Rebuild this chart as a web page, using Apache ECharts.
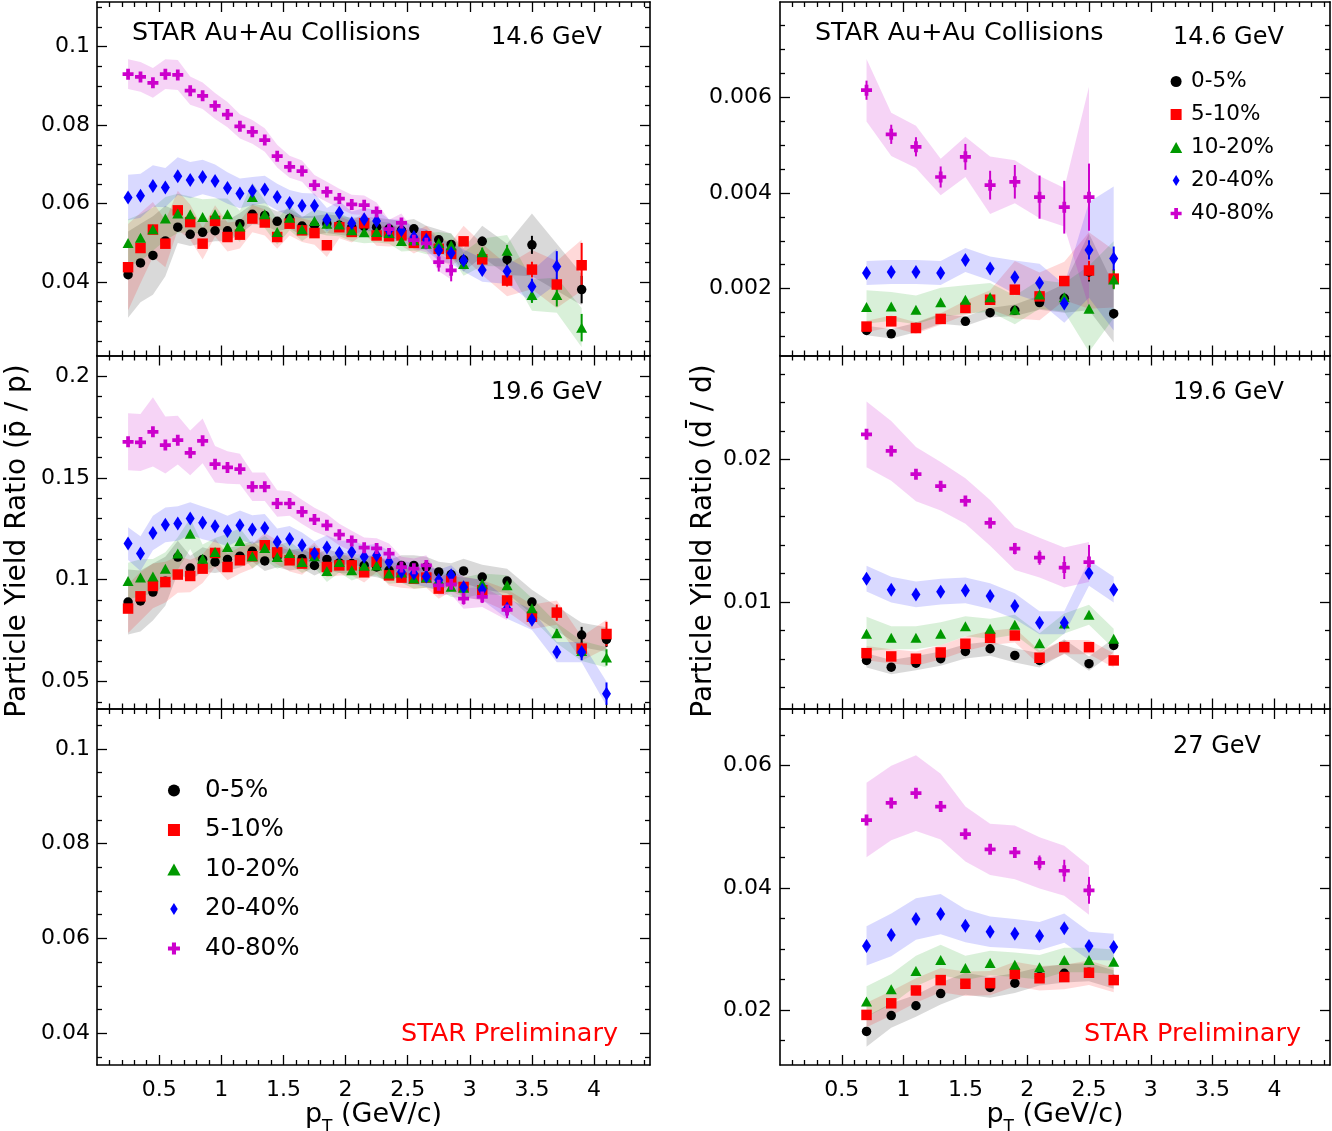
<!DOCTYPE html>
<html>
<head>
<meta charset="utf-8">
<title>STAR Au+Au antiparticle / particle ratios</title>
<script src="https://cdn.jsdelivr.net/npm/echarts@6.0.0/dist/echarts.min.js"></script>
<style>
html,body{margin:0;padding:0;background:#ffffff;}
#chart{width:1332px;height:1131px;}
</style>
</head>
<body>
<div id="chart"></div>
<script>
// ---------------- categories ----------------
const centralities = ['0-5%', '5-10%', '10-20%', '20-40%', '40-80%'];

// ---------------- x values (pT, GeV/c) ----------------
const ptProton = [0.25,0.35,0.45,0.55,0.65,0.75,0.85,0.95,1.05,1.15,1.25,1.35,1.45,1.55,1.65,1.75,1.85,1.95,2.05,2.15,2.25,2.35,2.45,2.55,2.65,2.75,2.85,2.95,3.1,3.3,3.5,3.7,3.9,4.1];
const ptDeuteron = [0.7,0.9,1.1,1.3,1.5,1.7,1.9,2.1,2.3,2.5,2.7];

// ---------------- tick values ----------------
const xMajorTicks = [0.5,1,1.5,2,2.5,3,3.5,4];
const xMinorTicks = [0.1,0.2,0.3,0.4,0.6,0.7,0.8,0.9,1.1,1.2,1.3,1.4,1.6,1.7,1.8,1.9,2.1,2.2,2.3,2.4,2.6,2.7,2.8,2.9,3.1,3.2,3.3,3.4,3.6,3.7,3.8,3.9,4.1,4.2,4.3,4.4];
const yMajorP146 = [0.04,0.06,0.08,0.1];
const yMinorP146 = [0.025,0.03,0.035,0.045,0.05,0.055,0.065,0.07,0.075,0.085,0.09,0.095,0.105,0.11];
const yMajorP196 = [0.05,0.1,0.15,0.2];
const yMinorP196 = [0.04,0.06,0.07,0.08,0.09,0.11,0.12,0.13,0.14,0.16,0.17,0.18,0.19];
const yMajorP27 = [0.04,0.06,0.08,0.1];
const yMinorP27 = [0.035,0.045,0.05,0.055,0.065,0.07,0.075,0.085,0.09,0.095,0.105];
const yMajorD146 = [0.002,0.004,0.006];
const yMinorD146 = [0.001,0.0015,0.0025,0.003,0.0035,0.0045,0.005,0.0055,0.0065,0.007,0.0075];
const yMajorD196 = [0.01,0.02];
const yMinorD196 = [0.004,0.006,0.008,0.012,0.014,0.016,0.018,0.022,0.024,0.026];
const yMajorD27 = [0.02,0.04,0.06];
const yMinorD27 = [0.015,0.025,0.03,0.035,0.045,0.05,0.055,0.065];

// ---------------- pbar/p, 14.6 GeV ----------------
const pbar146_0_5   = [0.0419,0.0449,0.0468,0.0505,0.0540,0.0522,0.0527,0.0531,0.0531,0.0549,0.0573,0.0570,0.0555,0.0562,0.0543,0.0545,0.0549,0.0545,0.0540,0.0542,0.0540,0.0536,0.0532,0.0536,0.0519,0.0508,0.0496,0.0457,0.0504,0.0458,0.0495,null,0.0381,null];
const pbar146_5_10  = [0.0438,0.0487,0.0534,0.0498,0.0583,0.0553,0.0498,0.0556,0.0515,0.0521,0.0562,0.0552,0.0515,0.0549,0.0532,0.0525,0.0494,0.0540,0.0528,0.0550,0.0519,0.0517,0.0519,0.0500,0.0517,0.0485,0.0472,0.0504,0.0458,0.0404,0.0432,0.0394,0.0443,null];
const pbar146_10_20 = [0.0500,0.0513,0.0535,0.0562,0.0575,0.0573,0.0566,0.0573,0.0573,0.0542,0.0617,0.0573,0.0528,0.0564,0.0535,0.0556,0.0549,0.0547,0.0532,0.0527,0.0528,0.0525,0.0505,0.0507,0.0498,0.0500,0.0494,0.0446,0.0476,0.0480,0.0367,0.0367,0.0284,null];
const pbar146_20_40 = [0.0616,0.0620,0.0645,0.0641,0.0670,0.0660,0.0668,0.0658,0.0640,0.0626,0.0632,0.0636,0.0617,0.0602,0.0595,0.0595,0.0559,0.0577,0.0550,0.0560,0.0556,0.0532,0.0532,0.0515,0.0508,0.0481,0.0474,0.0455,0.0431,0.0428,0.0389,0.0440,null,null];
const pbar146_40_80 = [0.0930,0.0923,0.0908,0.0930,0.0928,0.0888,0.0875,0.0849,0.0827,0.0797,0.0783,0.0762,0.0721,0.0694,0.0683,0.0647,0.0630,0.0613,0.0598,0.0596,0.0579,0.0535,0.0551,0.0507,0.0499,0.0451,0.0430,null,null,null,null,null,null,null];
const pbar146Sys_0_5   = [0.011,0.010,0.010,0.009,0.004,0.003,0.0028,0.0027,0.0027,0.0027,0.0026,0.0025,0.0025,0.0025,0.0025,0.0024,0.0024,0.0024,0.0024,0.0024,0.0024,0.0024,0.0024,0.0025,0.0025,0.0026,0.0028,0.003,0.004,0.004,0.008,null,0.004,null];
const pbar146Sys_5_10  = [0.011,0.009,0.007,0.006,0.005,0.0045,0.004,0.004,0.0037,0.0035,0.0035,0.0033,0.003,0.003,0.003,0.003,0.003,0.0028,0.0027,0.0027,0.0026,0.0026,0.0026,0.0027,0.0027,0.0028,0.003,0.004,0.004,0.004,0.005,0.006,0.0065,null];
const pbar146Sys_10_20 = [0.006,0.006,0.0055,0.0055,0.005,0.0045,0.0045,0.004,0.004,0.004,0.0037,0.0035,0.0033,0.0032,0.003,0.003,0.003,0.003,0.0028,0.0028,0.0027,0.0027,0.0027,0.0027,0.0027,0.0028,0.003,0.003,0.0035,0.004,0.004,0.0045,0.005,null];
const pbar146Sys_20_40 = [0.0058,0.0056,0.0053,0.005,0.0048,0.0046,0.0044,0.0042,0.004,0.0038,0.0036,0.0035,0.0034,0.0033,0.0032,0.0031,0.003,0.003,0.003,0.0029,0.0028,0.0028,0.0027,0.0027,0.0027,0.0027,0.0027,0.0028,0.003,0.0033,0.004,0.0045,null,null];
const pbar146Sys_40_80 = [0.0038,0.0038,0.0038,0.0038,0.0038,0.0036,0.0034,0.0033,0.0032,0.0031,0.003,0.003,0.0029,0.0028,0.0027,0.0026,0.0026,0.0025,0.0025,0.0025,0.0024,0.0024,0.0024,0.0023,0.0023,0.0023,0.0023,null,null,null,null,null,null,null];
const pbar146Stat_0_5   = [0,0,0,0,0,0,0,0,0,0,0,0,0,0,0,0,0,0,0,0,0,0,0,0,0,0,0,0.001,0.0012,0.0015,0.0023,0,0.0035,0];
const pbar146Stat_5_10  = [0,0,0,0,0,0,0,0,0,0,0,0,0,0,0,0,0,0,0,0,0,0,0,0,0,0.0008,0.001,0.001,0.0012,0.0015,0.002,0.0015,0.0057,0];
const pbar146Stat_10_20 = [0,0,0,0,0,0,0,0,0,0,0,0,0,0,0,0,0,0,0,0,0,0,0,0,0,0,0,0.001,0.0012,0.0015,0.002,0.0029,0.0035,0];
const pbar146Stat_20_40 = [0,0,0,0,0,0,0,0,0,0,0,0,0,0,0,0,0,0,0,0,0,0,0,0,0,0,0.001,0.001,0.0012,0.0012,0.002,0.0039,0,0];
const pbar146Stat_40_80 = [0,0,0,0,0,0,0,0,0,0,0,0,0,0,0,0,0,0,0,0,0,0,0.001,0.0012,0.0015,0.0024,0.0028,0,0,0,0,0,0,0];

// ---------------- pbar/p, 19.6 GeV ----------------
const pbar196_0_5   = [0.0890,0.0895,0.0939,0.0992,0.1111,0.1057,0.1099,0.1087,0.1099,0.1115,0.1139,0.1092,0.1111,0.1095,0.1103,0.1070,0.1099,0.1082,0.1079,0.1070,0.1062,0.1046,0.1070,0.1070,0.1062,0.1038,0.1025,0.1043,0.1013,0.0993,0.0890,null,0.0728,0.0706];
const pbar196_5_10  = [0.0858,0.0918,0.0969,0.0988,0.1025,0.1018,0.1054,0.1131,0.1062,0.1095,0.1115,0.1169,0.1134,0.1095,0.1079,0.1128,0.1062,0.1070,0.1070,0.1036,0.1087,0.1021,0.1010,0.1005,0.1010,0.0956,0.0993,0.0964,0.0948,0.0898,0.0818,0.0838,0.0661,0.0733];
const pbar196_10_20 = [0.0993,0.1010,0.1016,0.1054,0.1128,0.1226,0.1103,0.1136,0.1160,0.1190,0.1115,0.1156,0.1111,0.1131,0.1087,0.1115,0.1042,0.1087,0.1046,0.1068,0.1070,0.1030,0.1035,0.1005,0.1010,0.1000,0.0965,0.0960,0.0980,0.0972,0.0860,0.0737,0.0650,0.0618];
const pbar196_20_40 = [0.1177,0.1128,0.1229,0.1269,0.1276,0.1300,0.1279,0.1262,0.1239,0.1267,0.1246,0.1254,0.1185,0.1200,0.1169,0.1128,0.1158,0.1131,0.1136,0.1113,0.1120,0.1087,0.1038,0.1030,0.1016,0.0998,0.1021,0.0962,0.0950,0.0858,0.0803,0.0644,0.0644,0.0440];
const pbar196_40_80 = [0.1677,0.1674,0.1726,0.1661,0.1685,0.1623,0.1682,0.1567,0.1551,0.1543,0.1456,0.1456,0.1374,0.1374,0.1333,0.1295,0.1267,0.1221,0.1190,0.1157,0.1153,0.1128,0.1062,0.1054,0.1070,0.0972,0.0977,0.0907,0.0915,0.0851,null,null,null,null];
const pbar196Sys_0_5   = [0.016,0.015,0.014,0.012,0.008,0.006,0.006,0.0055,0.0055,0.0055,0.005,0.005,0.005,0.005,0.005,0.005,0.005,0.005,0.005,0.005,0.005,0.005,0.005,0.005,0.005,0.005,0.0055,0.006,0.006,0.006,0.006,null,0.006,0.006];
const pbar196Sys_5_10  = [0.012,0.012,0.011,0.010,0.009,0.008,0.007,0.007,0.0065,0.0065,0.006,0.006,0.006,0.0055,0.0055,0.0055,0.005,0.005,0.005,0.005,0.005,0.005,0.005,0.005,0.005,0.005,0.005,0.005,0.005,0.0055,0.006,0.006,0.006,0.007];
const pbar196Sys_10_20 = [0.009,0.009,0.0085,0.008,0.008,0.0075,0.007,0.0068,0.0065,0.0063,0.006,0.006,0.0058,0.0056,0.0055,0.0055,0.0053,0.0052,0.005,0.005,0.005,0.005,0.005,0.005,0.005,0.005,0.005,0.005,0.005,0.005,0.005,0.005,0.005,0.005];
const pbar196Sys_20_40 = [0.008,0.0085,0.0085,0.0085,0.0085,0.008,0.008,0.0078,0.0075,0.0072,0.007,0.0068,0.0066,0.0064,0.0062,0.006,0.006,0.006,0.0058,0.0056,0.0055,0.0055,0.0054,0.0053,0.0052,0.005,0.005,0.005,0.005,0.005,0.005,0.005,0.005,0.006];
const pbar196Sys_40_80 = [0.014,0.014,0.017,0.014,0.012,0.011,0.011,0.009,0.008,0.0075,0.007,0.007,0.0065,0.006,0.006,0.0058,0.0055,0.0053,0.005,0.005,0.005,0.005,0.005,0.005,0.005,0.005,0.005,0.005,0.005,0.005,null,null,null,null];
const pbar196Stat_0_5   = [0,0,0,0,0,0,0,0,0,0,0,0,0,0,0,0,0,0,0,0,0,0,0,0,0,0,0,0,0,0,0.002,0,0.004,0.0037];
const pbar196Stat_5_10  = [0,0,0,0,0,0,0,0,0,0,0,0,0,0,0,0,0,0,0,0,0,0,0,0,0,0,0,0,0,0.002,0.002,0.004,0.003,0.006];
const pbar196Stat_10_20 = [0,0,0,0,0,0,0,0,0,0,0,0,0,0,0,0,0,0,0,0,0,0,0,0,0,0,0,0,0,0,0.002,0.002,0.003,0.004];
const pbar196Stat_20_40 = [0,0,0,0,0,0,0,0,0,0,0,0,0,0,0,0,0,0,0,0,0,0,0,0,0,0,0,0,0,0.002,0.002,0.003,0.004,0.0055];
const pbar196Stat_40_80 = [0,0,0,0,0,0,0,0,0,0,0,0,0,0,0,0,0,0,0,0,0,0,0,0,0,0.003,0.003,0.003,0.003,0.004,0,0,0,0];

// ---------------- dbar/d, 14.6 GeV ----------------
const dbar146_0_5   = [0.00113,0.00106,0.00119,0.00137,0.00132,0.00150,0.00155,0.00171,0.00180,0.00235,0.00148];
const dbar146_5_10  = [0.00121,0.00132,0.00118,0.00137,0.00160,0.00177,0.00198,0.00184,0.00216,0.00238,0.00221];
const dbar146_10_20 = [0.00162,0.00163,0.00156,0.00172,0.00177,0.00182,0.00156,0.00188,0.00182,0.00158,0.00219];
const dbar146_20_40 = [0.00233,0.00235,0.00235,0.00233,0.00260,0.00242,0.00224,0.00212,0.00169,0.00281,0.00263];
const dbar146_40_80 = [0.00614,0.00522,0.00496,0.00433,0.00475,0.00416,0.00423,0.00391,0.00370,0.00391,null];
const dbar146Sys_0_5   = [0.0001,0.0001,0.0001,0.0001,0.0001,0.0001,0.00012,0.00015,0.0003,0.0008,0.0006];
const dbar146Sys_5_10  = [0.00012,0.00012,0.00012,0.00012,0.00015,0.0002,0.0006,0.0005,0.0004,0.0008,0.0006];
const dbar146Sys_10_20 = [0.00035,0.0003,0.0003,0.0003,0.0003,0.0003,0.0003,0.0003,0.0003,0.0009,0.0008];
const dbar146Sys_20_40 = [0.00025,0.00025,0.00025,0.00025,0.00025,0.00025,0.00035,0.0004,0.0004,0.001,0.0015];
const dbar146Sys_40_80 = [0.00065,0.00045,0.00044,0.00038,0.00042,0.0006,0.00045,0.00044,0.0004,0.0023,null];
const dbar146Stat_0_5   = [0,0,0,0,0,0,0,0,0,0.0002,0.0001];
const dbar146Stat_5_10  = [0,0,0,0,0,0,0,0,0.0001,0.0002,0.0002];
const dbar146Stat_10_20 = [0,0,0,0,0,0,0,0,0,0,0.0002];
const dbar146Stat_20_40 = [0,0,0,0,0,0,0,0,0,0.0002,0.00025];
const dbar146Stat_40_80 = [0.0002,0.0002,0.0002,0.00022,0.00027,0.0003,0.00035,0.00045,0.00055,0.0007,0];

// ---------------- dbar/d, 19.6 GeV ----------------
const dbar196_0_5   = [0.00591,0.00544,0.00572,0.00603,0.00654,0.00673,0.00626,0.00591,0.00689,0.00568,0.00696];
const dbar196_5_10  = [0.00642,0.00619,0.00603,0.00647,0.00708,0.00750,0.00766,0.00610,0.00684,0.00684,0.00591];
const dbar196_10_20 = [0.00778,0.00750,0.00750,0.00778,0.00830,0.00813,0.00841,0.00712,0.00850,0.00912,0.00743];
const dbar196_20_40 = [0.01164,0.01087,0.01054,0.01073,0.01082,0.01042,0.00972,0.00855,0.00855,0.01204,0.01087];
const dbar196_40_80 = [0.02176,0.02060,0.01897,0.01813,0.01709,0.01555,0.01375,0.01312,0.01242,0.01281,null];
const dbar196Sys_0_5   = [0.0005,0.0005,0.0005,0.0005,0.0005,0.0005,0.0005,0.0005,0.0005,0.0005,0.0005];
const dbar196Sys_5_10  = [0.0005,0.0005,0.0005,0.0005,0.0005,0.0005,0.0005,0.0005,0.0005,0.0005,0.0005];
const dbar196Sys_10_20 = [0.0012,0.0008,0.0008,0.0008,0.0007,0.0007,0.0007,0.0007,0.0007,0.0007,0.0007];
const dbar196Sys_20_40 = [0.0009,0.0009,0.0009,0.0009,0.0009,0.0009,0.0009,0.0008,0.0008,0.0009,0.0009];
const dbar196Sys_40_80 = [0.0023,0.0021,0.0019,0.0017,0.0016,0.0016,0.0015,0.0014,0.0014,0.0014,null];
const dbar196Stat_20_40 = [0,0,0,0,0,0,0,0,0,0.0003,0];
const dbar196Stat_40_80 = [0.0003,0.0003,0.0003,0.0003,0.0003,0.0003,0.0004,0.0005,0.0008,0.0012,0];

// ---------------- dbar/d, 27 GeV ----------------
const dbar27_0_5   = [0.0165,0.0191,0.0207,0.0227,0.0243,0.0237,0.0244,0.0255,0.0260,0.0262,0.0250];
const dbar27_5_10  = [0.0192,0.0211,0.0232,0.0249,0.0243,0.0244,0.0259,0.0252,0.0254,0.0261,0.0249];
const dbar27_10_20 = [0.0214,0.0234,0.0264,0.0282,0.0269,0.0277,0.0274,0.0270,0.0282,0.0282,0.0279];
const dbar27_20_40 = [0.0305,0.0323,0.0349,0.0357,0.0338,0.0328,0.0325,0.0321,0.0334,0.0305,0.0303];
const dbar27_40_80 = [0.0511,0.0539,0.0555,0.0533,0.0488,0.0463,0.0458,0.0441,0.0428,0.0396,null];
const dbar27Sys_0_5   = [0.0025,0.002,0.0018,0.0018,0.0018,0.0017,0.0016,0.0015,0.0015,0.0015,0.0015];
const dbar27Sys_5_10  = [0.002,0.002,0.002,0.002,0.002,0.002,0.002,0.002,0.002,0.002,0.002];
const dbar27Sys_10_20 = [0.0025,0.0025,0.0025,0.0025,0.002,0.002,0.002,0.002,0.002,0.002,0.002];
const dbar27Sys_20_40 = [0.0032,0.0035,0.0034,0.0033,0.0027,0.0025,0.0024,0.0023,0.0024,0.0023,0.0022];
const dbar27Sys_40_80 = [0.0061,0.0061,0.0062,0.0054,0.0045,0.0042,0.0044,0.0042,0.0041,0.004,null];
const dbar27Stat_40_80 = [0.0004,0.0004,0.0004,0.0005,0.0006,0.0007,0.0008,0.0012,0.0018,0.0022,0];

// ---------------- styles & layout ----------------
const FONT = 'DejaVu Sans';
const styles = [
  {color:'#000000', band:'rgba(0,0,0,0.15)',     symbol:'circle', size:9.5},
  {color:'#ff0000', band:'rgba(255,0,0,0.15)',   symbol:'path://M0,0H10V10H0Z', size:10.5},
  {color:'#009900', band:'rgba(0,153,0,0.15)',   symbol:'path://M5,0L10,9L0,9Z', size:[11,10]},
  {color:'#0000ff', band:'rgba(0,0,255,0.15)',   symbol:'path://M5,0L10,8L5,16L0,8Z', size:[9,14]},
  {color:'#cc00cc', band:'rgba(204,0,204,0.17)', symbol:'path://M3.3,0H6.7V3.3H10V6.7H6.7V10H3.3V6.7H0V3.3H3.3Z', size:11}
];

const panels = [
  {grid:{left:97, top:2, width:553, height:353.5}, yMin:0.0213, yMax:0.1114, yMajor:yMajorP146, yMinor:yMinorP146, x:ptProton,
   vals:[pbar146_0_5,pbar146_5_10,pbar146_10_20,pbar146_20_40,pbar146_40_80],
   sys:[pbar146Sys_0_5,pbar146Sys_5_10,pbar146Sys_10_20,pbar146Sys_20_40,pbar146Sys_40_80],
   stat:[pbar146Stat_0_5,pbar146Stat_5_10,pbar146Stat_10_20,pbar146Stat_20_40,pbar146Stat_40_80], bottom:false, labelMargin:7},
  {grid:{left:97, top:355.5, width:553, height:353}, yMin:0.0367, yMax:0.2101, yMajor:yMajorP196, yMinor:yMinorP196, x:ptProton,
   vals:[pbar196_0_5,pbar196_5_10,pbar196_10_20,pbar196_20_40,pbar196_40_80],
   sys:[pbar196Sys_0_5,pbar196Sys_5_10,pbar196Sys_10_20,pbar196Sys_20_40,pbar196Sys_40_80],
   stat:[pbar196Stat_0_5,pbar196Stat_5_10,pbar196Stat_10_20,pbar196Stat_20_40,pbar196Stat_40_80], bottom:false, labelMargin:7},
  {grid:{left:97, top:709, width:553, height:356}, yMin:0.0333, yMax:0.1084, yMajor:yMajorP27, yMinor:yMinorP27, x:ptProton,
   vals:null, bottom:true, labelMargin:7},
  {grid:{left:780, top:2, width:550, height:353.5}, yMin:0.000607, yMax:0.00798, yMajor:yMajorD146, yMinor:yMinorD146, x:ptDeuteron,
   vals:[dbar146_0_5,dbar146_5_10,dbar146_10_20,dbar146_20_40,dbar146_40_80],
   sys:[dbar146Sys_0_5,dbar146Sys_5_10,dbar146Sys_10_20,dbar146Sys_20_40,dbar146Sys_40_80],
   stat:[dbar146Stat_0_5,dbar146Stat_5_10,dbar146Stat_10_20,dbar146Stat_20_40,dbar146Stat_40_80], bottom:false, labelMargin:8},
  {grid:{left:780, top:355.5, width:550, height:353}, yMin:0.00254, yMax:0.02729, yMajor:yMajorD196, yMinor:yMinorD196, x:ptDeuteron,
   vals:[dbar196_0_5,dbar196_5_10,dbar196_10_20,dbar196_20_40,dbar196_40_80],
   sys:[dbar196Sys_0_5,dbar196Sys_5_10,dbar196Sys_10_20,dbar196Sys_20_40,dbar196Sys_40_80],
   stat:[null,null,null,dbar196Stat_20_40,dbar196Stat_40_80], bottom:false, labelMargin:8},
  {grid:{left:780, top:709, width:550, height:356}, yMin:0.0110, yMax:0.06928, yMajor:yMajorD27, yMinor:yMinorD27, x:ptDeuteron,
   vals:[dbar27_0_5,dbar27_5_10,dbar27_10_20,dbar27_20_40,dbar27_40_80],
   sys:[dbar27Sys_0_5,dbar27Sys_5_10,dbar27Sys_10_20,dbar27Sys_20_40,dbar27Sys_40_80],
   stat:[null,null,null,null,dbar27Stat_40_80], bottom:true, labelMargin:8}
];

const X_MIN = 0, X_MAX = 4.45;
const fmt = v => String(parseFloat(Number(v).toPrecision(6)));

function inRange(arr, lo, hi) { return arr.filter(v => v > lo + 1e-12 && v < hi - 1e-12); }

function makeAxis(gi, pos, min, max, ticks, len, showLine, labelOpt, extra) {
  const a = {
    type:'value', gridIndex:gi, position:pos, min:min, max:max, silent:true,
    axisLine:{show:showLine, onZero:false, lineStyle:{color:'#000', width:1.6}},
    axisTick:{show:true, inside:true, length:len, customValues:inRange(ticks, min, max), lineStyle:{color:'#000', width:1.3}},
    axisLabel: labelOpt ? Object.assign({show:true, customValues:inRange(ticks, min, max), formatter:fmt, color:'#000', fontFamily:FONT, fontSize:22}, labelOpt) : {show:false},
    splitLine:{show:false}, minorTick:{show:false}, minorSplitLine:{show:false}
  };
  return Object.assign(a, extra || {});
}

const xAxes = [], yAxes = [], grids = [], series = [];
panels.forEach((p, i) => {
  grids.push(Object.assign({show:false, containLabel:false, outerBoundsMode:'none'}, p.grid));
  const xName = p.bottom ? {
    name:'{p|p}{t|T}{p| (GeV/c)}', nameLocation:'middle', nameGap:34,
    nameTextStyle:{color:'#000', fontFamily:FONT, fontSize:27,
      rich:{p:{fontFamily:FONT, fontSize:27, color:'#000', verticalAlign:'top'},
            t:{fontFamily:FONT, fontSize:17, color:'#000', verticalAlign:'top', padding:[17,0,0,0]}}}
  } : {};
  xAxes.push(makeAxis(i, 'bottom', X_MIN, X_MAX, xMajorTicks, 10, true, p.bottom ? {margin:14} : null, xName));
  xAxes.push(makeAxis(i, 'bottom', X_MIN, X_MAX, xMinorTicks, 5, false, null));
  xAxes.push(makeAxis(i, 'top', X_MIN, X_MAX, xMajorTicks, 10, true, null));
  xAxes.push(makeAxis(i, 'top', X_MIN, X_MAX, xMinorTicks, 5, false, null));
  yAxes.push(makeAxis(i, 'left', p.yMin, p.yMax, p.yMajor, 10, true, {margin:p.labelMargin, padding:[6,0,0,0]}));
  yAxes.push(makeAxis(i, 'left', p.yMin, p.yMax, p.yMinor, 5, false, null));
  yAxes.push(makeAxis(i, 'right', p.yMin, p.yMax, p.yMajor, 10, true, null));
  yAxes.push(makeAxis(i, 'right', p.yMin, p.yMax, p.yMinor, 5, false, null));
});

function bandSeries(xs, ys, sys, color, axisIdx) {
  const pts = [];
  xs.forEach((x, k) => { if (ys[k] != null && sys[k] != null) pts.push([x, ys[k], sys[k]]); });
  return {
    type:'custom', name:'sys', xAxisIndex:axisIdx, yAxisIndex:axisIdx, silent:true, clip:true, z:1,
    data:[[pts[0][0], pts[0][1]]],
    renderItem:(params, api) => {
      const up = pts.map(q => api.coord([q[0], q[1] + q[2]]));
      const lo = pts.map(q => api.coord([q[0], q[1] - q[2]])).reverse();
      return {type:'polygon', shape:{points:up.concat(lo)}, style:{fill:color, stroke:null}};
    }
  };
}

function errSeries(xs, ys, errs, color, axisIdx) {
  const d = [];
  xs.forEach((x, k) => { if (ys[k] != null && errs[k]) d.push([x, ys[k], errs[k]]); });
  return {
    type:'custom', name:'stat', xAxisIndex:axisIdx, yAxisIndex:axisIdx, silent:true, z:2,
    data:d, encode:{x:0, y:1},
    renderItem:(params, api) => {
      const x = api.value(0), y = api.value(1), e = api.value(2);
      const a = api.coord([x, y - e]), b = api.coord([x, y + e]);
      return {type:'line', shape:{x1:a[0], y1:a[1], x2:b[0], y2:b[1]}, style:{stroke:color, lineWidth:2}};
    }
  };
}

panels.forEach((p, i) => {
  if (!p.vals) return;
  p.vals.forEach((ys, c) => series.push(bandSeries(p.x, ys, p.sys[c], styles[c].band, 4 * i)));
});
panels.forEach((p, i) => {
  if (!p.vals) return;
  p.vals.forEach((ys, c) => {
    const st = styles[c];
    if (p.stat[c]) series.push(errSeries(p.x, ys, p.stat[c], st.color, 4 * i));
    const data = [];
    p.x.forEach((x, k) => { if (ys[k] != null) data.push([x, ys[k]]); });
    series.push({
      type:'scatter', name:centralities[c], xAxisIndex:4 * i, yAxisIndex:4 * i, silent:true, z:2,
      symbol:st.symbol, symbolSize:st.size, itemStyle:{color:st.color, opacity:1}, data:data
    });
  });
});

const texts = [
  {text:'STAR Au+Au Collisions', left:132, top:20.5, size:25.4, color:'#000000'},
  {text:'14.6 GeV', left:491, top:26, size:24, color:'#000000'},
  {text:'STAR Au+Au Collisions', left:815, top:20.5, size:25.4, color:'#000000'},
  {text:'14.6 GeV', left:1173, top:26, size:24, color:'#000000'},
  {text:'19.6 GeV', left:491, top:381, size:24, color:'#000000'},
  {text:'19.6 GeV', left:1173, top:381, size:24, color:'#000000'},
  {text:'27 GeV', left:1173, top:735, size:24, color:'#000000'},
  {text:'STAR Preliminary', left:401, top:1021.5, size:25.5, color:'#ff0000'},
  {text:'STAR Preliminary', left:1084, top:1021.5, size:25.5, color:'#ff0000'}
];

const option = {
  animation:false,
  backgroundColor:'#ffffff',
  grid:grids,
  xAxis:xAxes,
  yAxis:yAxes,
  title:texts.map(t => ({text:t.text, left:t.left, top:t.top, padding:0, itemGap:0,
    textStyle:{fontFamily:FONT, fontSize:t.size, fontWeight:'normal', color:t.color}})),
  legend:[
    {data:centralities, orient:'vertical', left:167.3, top:778, itemWidth:52, itemHeight:12, itemGap:14.5, padding:0,
     selectedMode:false, textStyle:{fontFamily:FONT, fontSize:24.5, color:'#000'}},
    {data:centralities, orient:'vertical', left:1170, top:70.5, itemWidth:20, itemHeight:11, itemGap:11, padding:0,
     selectedMode:false, textStyle:{fontFamily:FONT, fontSize:21.5, color:'#000'}}
  ],
  graphic:[
    {type:'text', x:18, y:541, rotation:Math.PI / 2, silent:true,
     style:{text:'Particle Yield Ratio (p\u0304 / p)', fontFamily:FONT, fontSize:28, fill:'#000', align:'center', verticalAlign:'middle'}},
    {type:'text', x:704, y:541, rotation:Math.PI / 2, silent:true,
     style:{text:'Particle Yield Ratio (d\u0304 / d)', fontFamily:FONT, fontSize:28, fill:'#000', align:'center', verticalAlign:'middle'}}
  ],
  series:series
};

const chart = echarts.init(document.getElementById('chart'), null, {renderer:'canvas', width:1332, height:1131});
chart.setOption(option);
</script>
</body>
</html>
